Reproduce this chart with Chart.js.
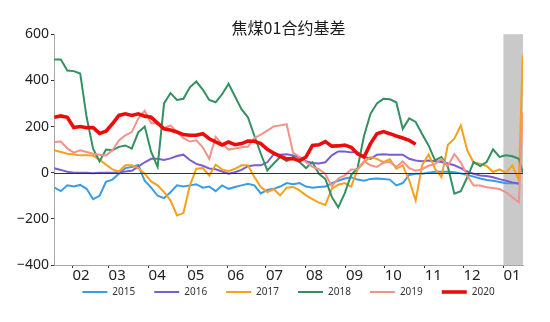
<!DOCTYPE html>
<html>
<head>
<meta charset="utf-8">
<title>焦煤01合约基差</title>
<script src="https://cdn.jsdelivr.net/npm/chart.js@4.4.1/dist/chart.umd.min.js"></script>
<style>
  html, body { margin: 0; padding: 0; background: #fff; }
  #wrap { width: 550px; height: 322px; }
</style>
</head>
<body>
<div id="wrap"><canvas id="basisChart" width="550" height="322"></canvas></div>
<script>
// day of year for each sample (about one every 5 days)
const days = [18, 23, 28, 33, 38, 43, 48, 53, 58, 63, 68, 73, 78, 83, 88, 93, 98, 103, 108, 113,
  118, 123, 128, 133, 138, 143, 148, 153, 158, 163, 168, 173, 178, 183, 188, 193, 198, 203, 208, 213,
  218, 223, 228, 233, 238, 243, 248, 253, 258, 263, 268, 273, 278, 283, 288, 293, 298, 303, 308, 313,
  318, 323, 328, 333, 338, 343, 348, 353, 358, 363, 368, 373, 378, 381];

const monthStarts = [32, 60, 91, 121, 152, 182, 213, 244, 274, 305, 335, 366];
const monthLabels = ['02', '03', '04', '05', '06', '07', '08', '09', '10', '11', '12', '01'];

// delivery month window (shaded)
const rollStart = 366;

const years = ['2015', '2016', '2017', '2018', '2019', '2020'];

const basis2015 = [-65, -80, -55, -60, -53, -70, -115, -100, -40, -30,
  -5, 20, 25, 33, -35, -65, -100, -110, -85, -55,
  -60, -55, -50, -65, -60, -80, -55, -70, -62, -55,
  -48, -55, -90, -75, -70, -60, -45, -50, -45, -60,
  -65, -62, -60, -45, -35, -25, -20, -30, -35, -27,
  -25, -27, -30, -55, -45, -10, -5, -5, 0, 4,
  4, 4, 2, -3, -10, -17, -25, -32, -35, -40,
  -46, -46, -46, null];

const basis2016 = [19, 12, 4, 0, 0, 0, -2, 0, 0, 0,
  2, 5, 8, 26, 45, 60, 60, 55, 62, 72,
  78, 55, 38, 30, 18, 15, 5, -4, 2, 12,
  28, 32, 32, 45, 80, 78, 80, 75, 65, 50,
  42, 40, 45, 75, 92, 92, 88, 88, 70, 60,
  78, 80, 78, 78, 78, 60, 53, 50, 53, 50,
  46, 40, 32, 20, 5, -5, -12, -14, -20, -28,
  -35, -42, -48, null];

const basis2017 = [97, 90, 82, 79, 75, 75, 74, 56, 35, 14,
  5, 32, 32, 20, -4, -38, -55, -84, -120, -185,
  -175, -55, 17, 20, -12, 35, 14, 6, 17, 32,
  32, -19, -62, -84, -72, -98, -65, -62, -77, -98,
  -115, -130, -140, -70, -52, -45, -60, 14, 45, 68,
  60, 46, 58, 17, 32, -33, -120, 32, 79, 17,
  -19, 121, 147, 205, 97, 43, 39, 29, 3, 14,
  0, 32, -33, 508];

const basis2018 = [490, 490, 443, 440, 430, 240, 104, 49, 100, 97,
  112, 118, 104, 175, 200, 90, 25, 300, 345, 315,
  320, 370, 395, 360, 315, 305, 340, 385, 330, 275,
  240, 160, 82, 10, 40, 68, 50, 68, 46, 20,
  45, -5, -27, -105, -150, -90, -10, 20, 160, 255,
  300, 320, 318, 305, 190, 235, 220, 168, 118, 53,
  68, 25, -91, -80, -20, 46, 29, 46, 101, 68,
  75, 71, 60, 0];

const basis2019 = [133, 135, 105, 87, 97, 90, 82, 78, 75, 97,
  140, 162, 176, 235, 268, 215, 212, 193, 205, 175,
  150, 135, 140, 110, 60, 155, 125, 100, 105, 110,
  112, 150, 165, 182, 200, 205, 210, 87, 68, 45,
  25, 15, -5, -60, -25, -12, 14, 15, 50, 32,
  25, 43, 46, 25, 49, 20, 9, 15, 30, 37,
  59, 30, 81, 44, -13, -56, -56, -63, -66, -71,
  -85, -107, -128, 260];

const basis2020 = [240, 246, 240, 196, 200, 195, 195, 170, 180, 212,
  248, 255, 248, 255, 245, 240, 215, 190, 185, 176,
  165, 162, 162, 169, 147, 133, 120, 133, 121, 126,
  137, 136, 126, 101, 85, 71, 60, 61, 52, 68,
  118, 121, 135, 115, 116, 120, 110, 82, 68, 126,
  169, 178, 169, 159, 150, 140, 123, null, null, null,
  null, null, null, null, null, null, null, null, null, null,
  null, null, null, null];

const lineColors = ['#3a9ce9', '#7a5dd3', '#f5a11c', '#33905f', '#f2928a', '#ec0c0c'];
const lineWidths = [2, 2, 2, 2, 2, 3.6];

const allSeries = [basis2015, basis2016, basis2017, basis2018, basis2019, basis2020];

const datasets = allSeries.map((vals, i) => ({
  label: years[i],
  data: days.map((d, k) => ({ x: d, y: vals[k] })),
  borderColor: lineColors[i],
  backgroundColor: lineColors[i],
  borderWidth: lineWidths[i],
  pointRadius: 0,
  pointHoverRadius: 0,
  pointStyle: 'line',
  pointBorderWidth: lineWidths[i],
  tension: 0,
  order: allSeries.length - i   // later years on top
}));

// grey delivery window + zero line
const rollShade = {
  id: 'rollShade',
  beforeDatasetsDraw(chart) {
    const { ctx, chartArea, scales } = chart;
    const left = scales.x.getPixelForValue(rollStart);
    ctx.save();
    ctx.fillStyle = '#c9c9c9';
    ctx.fillRect(left, chartArea.top, chartArea.right - left, chartArea.bottom - chartArea.top);
    ctx.restore();
  },
  afterDatasetsDraw(chart) {
    const { ctx, chartArea, scales } = chart;
    const y0 = Math.round(scales.y.getPixelForValue(0)) + 0.5;
    ctx.save();
    ctx.strokeStyle = '#333';
    ctx.lineWidth = 1;
    ctx.beginPath();
    ctx.moveTo(chartArea.left, y0);
    ctx.lineTo(chartArea.right, y0);
    ctx.stroke();
    ctx.restore();
  }
};

// legend padding is big for the wide item gaps, pull the row back up under the axis
const legendLift = {
  id: 'legendLift',
  afterLayout(chart) {
    const lg = chart.legend;
    if (!lg) return;
    lg.top -= 15;
    lg.bottom -= 15;
  }
};

const ctx = document.getElementById('basisChart').getContext('2d');
new Chart(ctx, {
  type: 'line',
  data: { datasets: datasets },
  plugins: [rollShade, legendLift],
  options: {
    responsive: false,
    animation: false,
    events: [],
    layout: { padding: { top: 8, right: 27, bottom: 0, left: 0 } },
    scales: {
      x: {
        type: 'linear',
        min: 17.7,
        max: 381.2,
        afterBuildTicks: axis => { axis.ticks = monthStarts.map(v => ({ value: v })); },
        afterFit: axis => { axis.height = 18; },
        ticks: {
          callback: (v, i) => monthLabels[i],
          align: 'start',
          autoSkip: false,
          maxRotation: 0,
          padding: -1,
          color: '#222',
          font: { family: 'Noto Sans', size: 15 }
        },
        grid: { drawOnChartArea: false, drawTicks: true, tickLength: 3, color: '#333' },
        border: { color: '#a6a6a6', width: 1 }
      },
      y: {
        min: -400,
        max: 600,
        afterFit: axis => { axis.width = 54; },
        ticks: {
          stepSize: 200,
          callback: v => (v < 0 ? '\u2212' + Math.abs(v) : String(v)),
          padding: 2,
          color: '#222',
          font: { family: 'Noto Sans', size: 14 }
        },
        grid: { drawOnChartArea: false, drawTicks: true, tickLength: 3, color: '#333' },
        border: { color: '#a6a6a6', width: 1 }
      }
    },
    plugins: {
      title: {
        display: true,
        text: '焦煤01合约基差',
        fullSize: false,
        color: '#1a1a1a',
        font: { family: 'Noto Sans CJK SC', size: 16, weight: 'normal' },
        padding: { top: 10, bottom: -3 }
      },
      legend: {
        position: 'bottom',
        fullSize: false,
        labels: {
          usePointStyle: true,
          pointStyleWidth: 25,
          padding: 19,
          color: '#333',
          font: { family: 'Noto Sans', size: 10 },
          sort: (a, b) => a.datasetIndex - b.datasetIndex
        }
      },
      tooltip: { enabled: false }
    }
  }
});
</script>
</body>
</html>
